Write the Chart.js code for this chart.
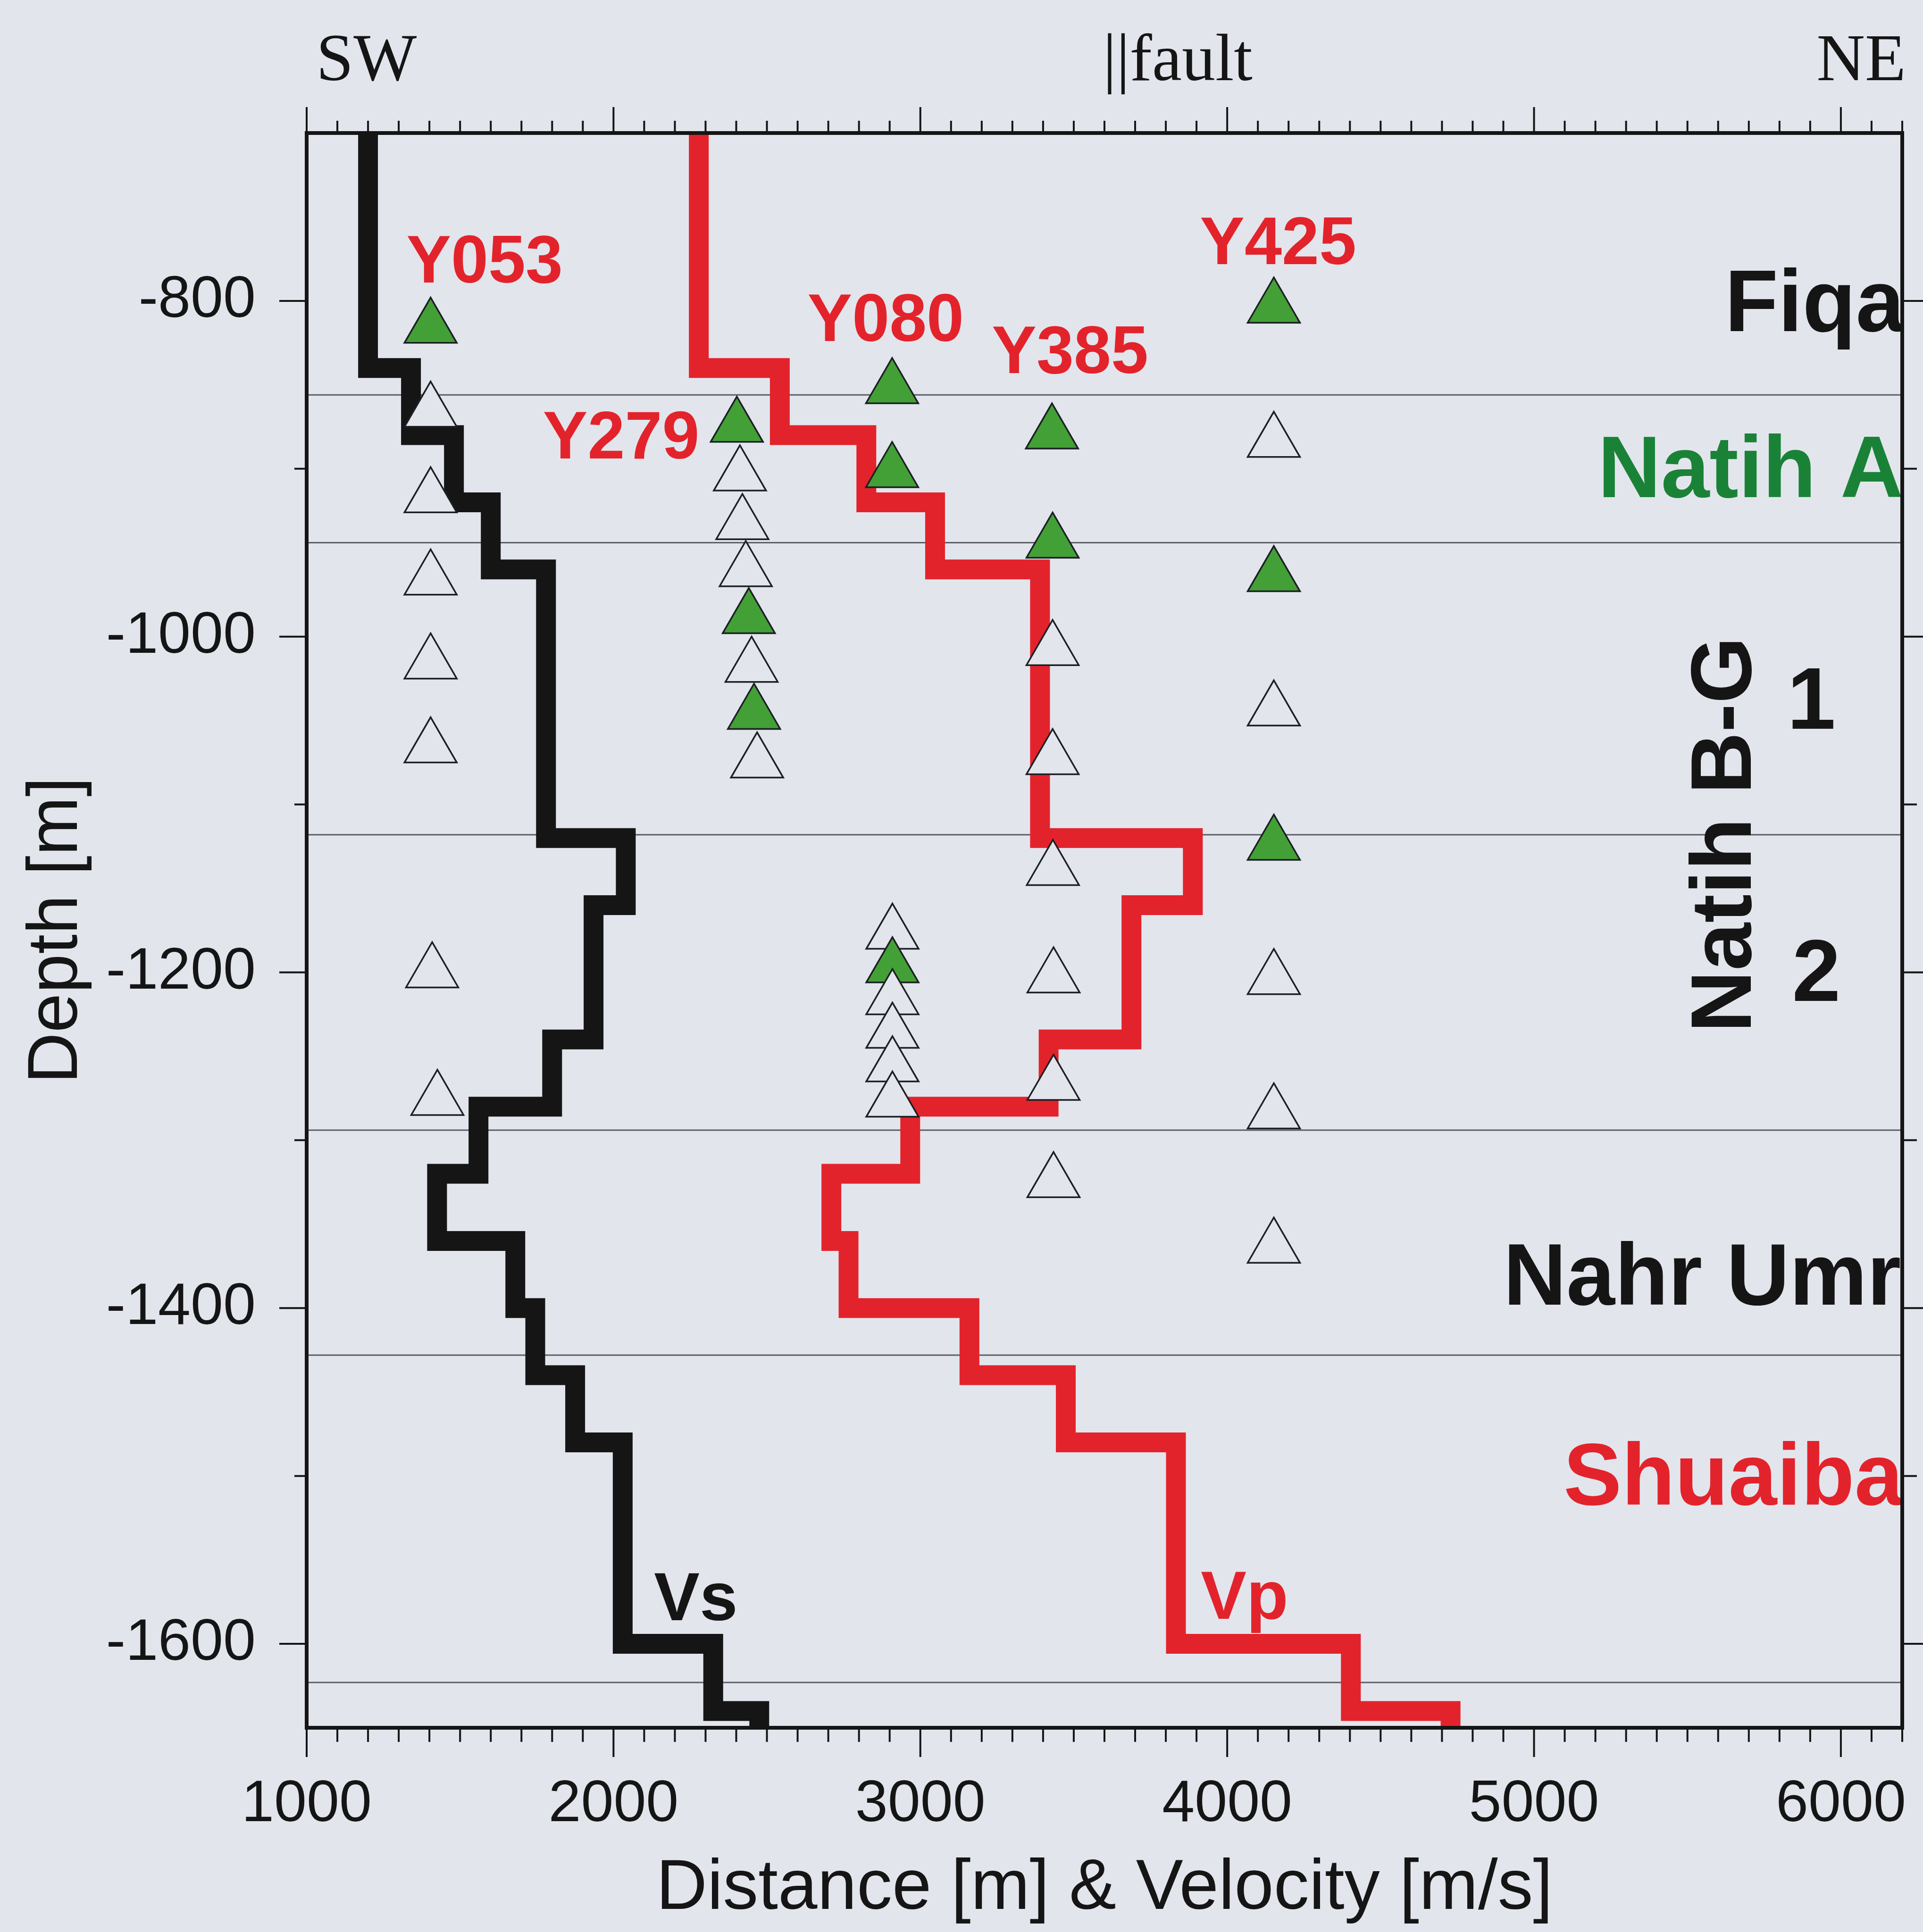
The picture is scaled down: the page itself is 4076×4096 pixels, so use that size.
<!DOCTYPE html>
<html>
<head>
<meta charset="utf-8">
<script src="https://cdn.jsdelivr.net/npm/chart.js@4.4.1/dist/chart.umd.min.js"></script>
<style>
  html, body { margin: 0; padding: 0; background: #e3e5ed; }
  canvas { display: block; }
</style>
</head>
<body>
<canvas id="perfil" width="4076" height="4096"></canvas>
<script>
// velocity model: top of each layer (m) and layer velocities (m/s)
const layerTop = [-700, -840, -880, -920, -960, -1120, -1160, -1240, -1280, -1320, -1360, -1400, -1440, -1480, -1600, -1640];
const modelBottom = -1650;
const vsVel = [1200, 1340, 1480, 1600, 1780, 2040, 1935, 1800, 1560, 1425, 1680, 1745, 1875, 2030, 2325, 2475];
const vpVel = [2278, 2542, 2824, 3048, 3390, 3888, 3688, 3418, 2967, 2710, 2766, 3160, 3474, 3833, 4403, 4728];

// receivers per well: distance, depth, used (1 = green)
const y053Dist = [1404, 1404, 1404, 1404, 1404, 1404, 1409, 1426];
const y053Depth = [-816, -866, -917, -966, -1016, -1066, -1200, -1276];
const y053Used = [1, 0, 0, 0, 0, 0, 0, 0];

const y279Dist = [2402, 2412, 2420, 2431, 2441, 2450, 2458, 2468];
const y279Depth = [-875, -904, -933, -961, -989, -1018, -1046, -1075];
const y279Used = [1, 0, 0, 0, 1, 0, 1, 0];

const y080Dist = [2908, 2908, 2909, 2909, 2909, 2909, 2909, 2909];
const y080Depth = [-852, -902, -1177, -1197, -1216, -1236, -1256, -1277];
const y080Used = [1, 1, 0, 1, 0, 0, 0, 0];

const y385Dist = [3429, 3431, 3431, 3431, 3432, 3434, 3434, 3434];
const y385Depth = [-879, -944, -1008, -1073, -1139, -1203, -1267, -1325];
const y385Used = [1, 1, 0, 0, 0, 0, 0, 0];

const y425Dist = [4152, 4152, 4152, 4152, 4152, 4152, 4152, 4152];
const y425Depth = [-804, -884, -964, -1044, -1124, -1204, -1284, -1364];
const y425Used = [1, 0, 1, 0, 1, 0, 0, 0];

const wellNames = ['Y053', 'Y279', 'Y080', 'Y385', 'Y425'];
const wellLabelX = [1580, 2025, 2887, 3488, 4166];
const wellLabelDepth = [-789, -894, -824, -843, -778];

// formations
const boundaryDepth = [-856, -944, -1118, -1294, -1428, -1623];
const formationNames = ['Fiqa', 'Natih A', 'Nahr Umr', 'Shuaiba'];
const formationX = [5622, 5208, 4900, 5096];
const formationDepth = [-818, -917, -1398, -1517];

const BG = '#e3e5ed';
const RED = '#e3232b';
const GREEN = '#43a036';
const INK = '#151515';
const formationColors = [INK, '#1a8237', INK, RED];

function stepPoints(vel) {
  const pts = layerTop.map((d, i) => ({ x: vel[i], y: d }));
  pts.push({ x: vel[vel.length - 1], y: modelBottom });
  return pts;
}

function wellSet(dist, depth, used) {
  return {
    type: 'scatter',
    data: dist.map((x, i) => ({ x: x, y: depth[i] })),
    pointStyle: 'triangle',
    pointRadius: 64,
    pointHoverRadius: 64,
    pointBackgroundColor: used.map(u => u ? GREEN : BG),
    pointBorderColor: '#1c1f24',
    pointBorderWidth: 3.5,
    order: 0
  };
}

const decor = {
  id: 'decor',
  beforeDraw(chart) {
    const { ctx, width, height } = chart;
    ctx.save();
    ctx.fillStyle = BG;
    ctx.fillRect(0, 0, width, height);
    ctx.restore();
  },
  beforeDatasetsDraw(chart) {
    const { ctx, chartArea: a, scales: { y } } = chart;
    ctx.save();
    ctx.strokeStyle = '#5b5e66';
    ctx.lineWidth = 3;
    boundaryDepth.forEach(d => {
      const p = y.getPixelForValue(d);
      ctx.beginPath();
      ctx.moveTo(a.left, p);
      ctx.lineTo(a.right, p);
      ctx.stroke();
    });
    ctx.restore();
  },
  afterDatasetsDraw(chart) {
    const { ctx, chartArea: a, scales: { x, y } } = chart;
    const px = v => x.getPixelForValue(v);
    const py = d => y.getPixelForValue(d);
    ctx.save();
    ctx.textBaseline = 'alphabetic';

    // well names
    ctx.font = 'bold 142px "Liberation Sans"';
    ctx.fillStyle = RED;
    ctx.textAlign = 'center';
    wellNames.forEach((s, i) => ctx.fillText(s, px(wellLabelX[i]), py(wellLabelDepth[i])));

    // Vs / Vp
    ctx.font = 'bold 145px "Liberation Sans"';
    ctx.textAlign = 'left';
    ctx.fillStyle = INK;
    ctx.fillText('Vs', px(2132), py(-1586));
    ctx.fillStyle = RED;
    ctx.fillText('Vp', px(3914), py(-1585));

    // formation names, cut at the frame
    ctx.save();
    ctx.beginPath();
    ctx.rect(a.left, a.top, a.right - a.left, a.bottom - a.top);
    ctx.clip();
    ctx.font = 'bold 185px "Liberation Sans"';
    formationNames.forEach((s, i) => {
      ctx.fillStyle = formationColors[i];
      ctx.fillText(s, px(formationX[i]), py(formationDepth[i]));
    });
    ctx.fillStyle = INK;
    ctx.font = 'bold 182px "Liberation Sans"';
    ctx.save();
    ctx.translate(px(5706), py(-1118));
    ctx.rotate(-Math.PI / 2);
    ctx.textAlign = 'center';
    ctx.fillText('Natih B-G', 0, 0);
    ctx.restore();
    ctx.font = 'bold 185px "Liberation Sans"';
    ctx.textAlign = 'center';
    ctx.fillText('1', px(5904), py(-1055));
    ctx.fillText('2', px(5920), py(-1217));
    ctx.restore();

    // frame
    ctx.strokeStyle = INK;
    ctx.lineWidth = 8;
    ctx.strokeRect(a.left, a.top, a.right - a.left, a.bottom - a.top);

    // ticks
    ctx.lineWidth = 4;
    ctx.beginPath();
    for (let v = 1000; v <= 6200; v += 100) {
      const p = px(v);
      const major = v % 1000 === 0;
      ctx.moveTo(p, a.bottom);
      ctx.lineTo(p, a.bottom + (major ? 62 : 30));
      ctx.moveTo(p, a.top);
      ctx.lineTo(p, a.top - (major ? 55 : 26));
    }
    for (let d = -1600; d <= -800; d += 100) {
      const p = py(d);
      const major = d % 200 === 0;
      ctx.moveTo(a.left, p);
      ctx.lineTo(a.left - (major ? 58 : 26), p);
      ctx.moveTo(a.right, p);
      ctx.lineTo(a.right + (major ? 55 : 31), p);
    }
    ctx.stroke();

    // profile ends
    ctx.font = '142px "Liberation Serif"';
    ctx.fillStyle = INK;
    ctx.textAlign = 'left';
    ctx.fillText('SW', px(1031), a.top - 112);
    ctx.fillText('||fault', px(3595), a.top - 112);
    ctx.textAlign = 'right';
    ctx.fillText('NE', px(6212), a.top - 112);
    ctx.restore();
  }
};

new Chart(document.getElementById('perfil'), {
  type: 'scatter',
  data: {
    datasets: [
      wellSet(y053Dist, y053Depth, y053Used),
      wellSet(y279Dist, y279Depth, y279Used),
      wellSet(y080Dist, y080Depth, y080Used),
      wellSet(y385Dist, y385Depth, y385Used),
      wellSet(y425Dist, y425Depth, y425Used),
      {
        type: 'line', label: 'Vp', data: stepPoints(vpVel), stepped: 'after',
        borderColor: RED, borderWidth: 42, borderJoinStyle: 'miter', borderCapStyle: 'butt',
        pointRadius: 0, fill: false, order: 2
      },
      {
        type: 'line', label: 'Vs', data: stepPoints(vsVel), stepped: 'after',
        borderColor: INK, borderWidth: 42, borderJoinStyle: 'miter', borderCapStyle: 'butt',
        pointRadius: 0, fill: false, order: 3
      }
    ]
  },
  options: {
    responsive: false,
    animation: false,
    devicePixelRatio: 1,
    layout: { autoPadding: false, padding: { left: 0, top: 282, right: 44, bottom: 0 } },
    plugins: { legend: { display: false }, tooltip: { enabled: false } },
    scales: {
      x: {
        type: 'linear', position: 'bottom', min: 1000, max: 6200,
        grid: { display: false, drawTicks: false }, border: { display: false },
        ticks: {
          stepSize: 100, autoSkip: false, maxRotation: 0, padding: 89,
          color: INK, font: { family: 'Liberation Sans', size: 124 },
          callback: v => (v % 1000 === 0 ? String(v) : '')
        },
        title: {
          display: true, text: 'Distance [m] & Velocity [m/s]', color: INK,
          font: { family: 'Liberation Sans', size: 150 }, padding: { top: 0, bottom: 0 }
        },
        afterFit(s) { s.height = 433; s.paddingLeft = 0; s.paddingRight = 0; }
      },
      y: {
        type: 'linear', position: 'left', min: -1650, max: -700,
        grid: { display: false, drawTicks: false }, border: { display: false },
        ticks: {
          stepSize: 200, includeBounds: false, autoSkip: false, padding: 108,
          color: INK, font: { family: 'Liberation Sans', size: 124 },
          callback: v => String(v)
        },
        title: {
          display: true, text: 'Depth [m]', color: INK,
          font: { family: 'Liberation Sans', size: 150 }, padding: { top: 32, bottom: 0 }
        },
        afterFit(s) { s.width = 650; s.paddingTop = 0; s.paddingBottom = 0; }
      }
    }
  },
  plugins: [decor]
});
</script>
</body>
</html>
